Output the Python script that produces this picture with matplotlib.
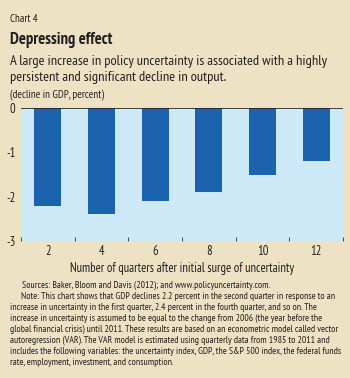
import matplotlib.pyplot as plt
import numpy as np

plt.rcParams['font.family'] = ['PT Sans Narrow', 'Roboto Condensed', 'Liberation Sans', 'DejaVu Sans']
plt.rcParams['text.color'] = '#231f20'
plt.rcParams['xtick.color'] = '#231f20'
plt.rcParams['ytick.color'] = '#231f20'
plt.rcParams['axes.labelcolor'] = '#231f20'

quarters = ['2', '4', '6', '8', '10', '12']
decline = [-2.2, -2.4, -2.1, -1.9, -1.5, -1.2]

bg = '#ede3c4'
panel = '#cde9f8'
bar_col = '#1b64ad'

fig = plt.figure(figsize=(3.5, 3.78), dpi=100, facecolor=bg)
ax = fig.add_axes([21/350, 1 - 241/378, 322/350, 133/378])
ax.set_facecolor(panel)

x = np.arange(len(quarters))
ax.bar(x, decline, width=0.5, color=bar_col, zorder=2)
ax.axhline(0, color='#2b2016', lw=1.2, zorder=3)

ax.set_xlim(-0.5, len(quarters) - 0.5)
ax.set_ylim(-3, 0)
ax.set_xticks(x)
ax.set_xticklabels(quarters, fontsize=9)
ax.set_xticks(np.arange(-0.5, len(quarters)), minor=True)
ax.tick_params(axis='x', which='major', length=0, pad=3)
ax.tick_params(axis='x', which='minor', direction='in', length=3, color='#333333')
ax.set_yticks([0, -1, -2, -3])
ax.set_yticklabels(['0', '-1', '-2', '-3'], fontsize=9)
ax.tick_params(axis='y', length=0, pad=4)
for s in ax.spines.values():
    s.set_visible(False)
ax.set_xlabel('Number of quarters after initial surge of uncertainty', fontsize=9, labelpad=3)

def px(xp, yp):
    return xp / 350, 1 - yp / 378

renderer = fig.canvas.get_renderer()

def fit(x0, x1, s, size, **kw):
    # font size at which s spans x0..x1 pixels
    t = fig.text(0, 0, s, fontsize=size, **kw)
    w = t.get_window_extent(renderer).width
    t.remove()
    return size * (x1 - x0) / w

def put(x0, yb, s, size, **kw):
    return fig.text(*px(x0, yb), s, fontsize=size, va='baseline', **kw)

put(10, 22, 'Chart 4', fit(10, 38, 'Chart 4', 7))
put(10, 44, 'Depressing effect', fit(10, 112, 'Depressing effect', 11, fontweight='bold'),
    fontweight='bold')
sub1 = 'A large increase in policy uncertainty is associated with a highly'
sub_size = fit(10, 327, sub1, 9)
put(10, 65, sub1, sub_size)
put(10, 81, 'persistent and significant decline in output.', sub_size)
put(10, 97, '(decline in GDP, percent)', fit(10, 105, '(decline in GDP, percent)', 7))

notes = [
    (22, 277, 'Sources: Baker, Bloom and Davis (2012); and www.policyuncertainty.com.'),
    (21, 346, 'Note: This chart shows that GDP declines 2.2 percent in the second quarter in response to an'),
    (10, 318, 'increase in uncertainty in the first quarter, 2.4 percent in the fourth quarter, and so on. The'),
    (10, 302, 'increase in uncertainty is assumed to be equal to the change from 2006 (the year before the'),
    (10, 337, 'global financial crisis) until 2011. These results are based on an econometric model called vector'),
    (10, 334, 'autoregression (VAR). The VAR model is estimated using quarterly data from 1985 to 2011 and'),
    (10, 336, 'includes the following variables: the uncertainty index, GDP, the S&P 500 index, the federal funds'),
    (10, 172, 'rate, employment, investment, and consumption.'),
]
note_size = np.median([fit(x0, x1, line, 6) for x0, x1, line in notes])
for i, (x0, x1, line) in enumerate(notes):
    put(x0, 288 + i * 10.95, line, min(note_size, fit(x0, 348, line, 6)))

fig.savefig('out.png', dpi=100, facecolor=bg)
